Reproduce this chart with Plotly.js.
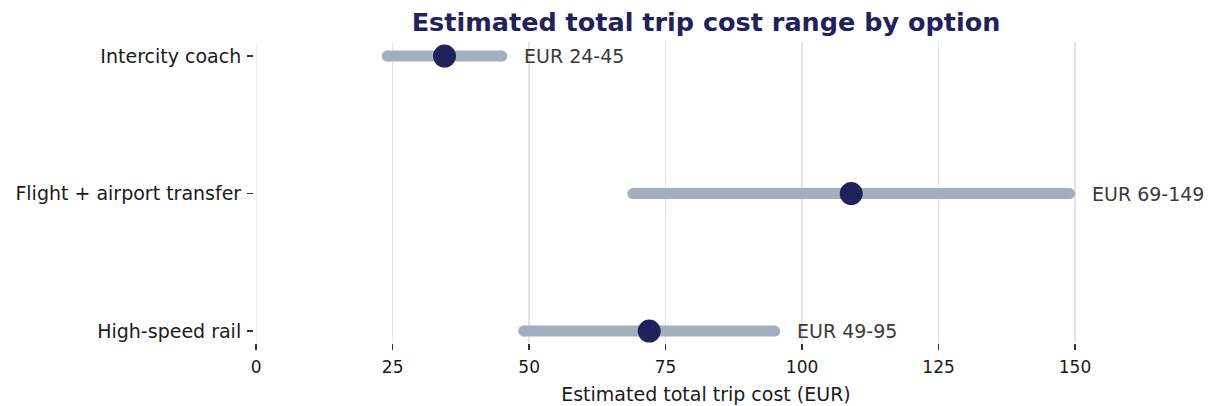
<!DOCTYPE html>
<html>
<head>
<meta charset="utf-8">
<script src="https://cdn.plot.ly/plotly-3.0.1.min.js"></script>
<style>html,body{margin:0;padding:0;background:#fff;}#chart{width:1217px;height:406px;}</style>
</head>
<body>
<div id="chart"></div>
<script>
const categories = ["High-speed rail", "Flight + airport transfer", "Intercity coach"];
const lowCost = [49, 69, 24];
const highCost = [95, 149, 45];
const midCost = [72, 109, 34.5];
const rangeLabels = ["EUR 49-95", "EUR 69-149", "EUR 24-45"];
const xTicks = [0, 25, 50, 75, 100, 125, 150];

const GRAY = "#a3aec1";
const NAVY = "#1f225b";
const FONT = "DejaVu Sans, Verdana, sans-serif";

const traces = [];
categories.forEach((c, i) => {
  traces.push({
    type: "scatter", mode: "lines+markers",
    x: [lowCost[i], highCost[i]], y: [c, c],
    line: {color: GRAY, width: 11},
    marker: {color: GRAY, size: 11, line: {width: 0}},
    hoverinfo: "skip", showlegend: false
  });
});
traces.push({
  type: "scatter", mode: "markers",
  x: midCost, y: categories,
  marker: {color: NAVY, size: 23, line: {width: 0}},
  showlegend: false
});

const annotations = categories.map((c, i) => ({
  x: highCost[i], y: c, xref: "x", yref: "y",
  text: rangeLabels[i], showarrow: false,
  xanchor: "left", yanchor: "middle", xshift: 20,
  font: {family: FONT, size: 19, color: "#3a3a3a"}
}));

const layout = {
  width: 1217, height: 406,
  margin: {l: 254, r: 59, t: 42, b: 63},
  paper_bgcolor: "#ffffff", plot_bgcolor: "#ffffff",
  font: {family: FONT, color: "#1a1a1a"},
  title: {
    text: "<b>Estimated total trip cost range by option</b>",
    font: {family: FONT, size: 25.5, color: NAVY},
    x: 0.5, xref: "paper", xanchor: "center",
    y: 1 - 22/406, yref: "container", yanchor: "middle"
  },
  xaxis: {
    range: [-0.4, 165.2], tickvals: xTicks, ticktext: xTicks.map(String),
    showgrid: true, gridcolor: "#e2e4e9", gridwidth: 1.4,
    zeroline: true, zerolinecolor: "#eceef1", zerolinewidth: 1.2, showline: false,
    ticks: "outside", ticklen: 6, tickwidth: 1.4, tickcolor: "#333333",
    ticklabelstandoff: 3,
    tickfont: {family: FONT, size: 17, color: "#1a1a1a"},
    title: {text: "Estimated total trip cost (EUR)", font: {family: FONT, size: 19, color: "#1a1a1a"}, standoff: 11},
    automargin: false, fixedrange: true
  },
  yaxis: {
    type: "category", categoryorder: "array", categoryarray: categories,
    range: [-0.087, 2.102],
    showgrid: false, zeroline: false, showline: false,
    ticks: "outside", ticklen: 6, tickwidth: 1.4, tickcolor: "#333333",
    ticklabelstandoff: 2,
    tickfont: {family: FONT, size: 19, color: "#1a1a1a"},
    automargin: false, fixedrange: true
  },
  annotations: annotations,
  hovermode: false
};

Plotly.newPlot("chart", traces, layout, {displayModeBar: false, staticPlot: true});
</script>
</body>
</html>
